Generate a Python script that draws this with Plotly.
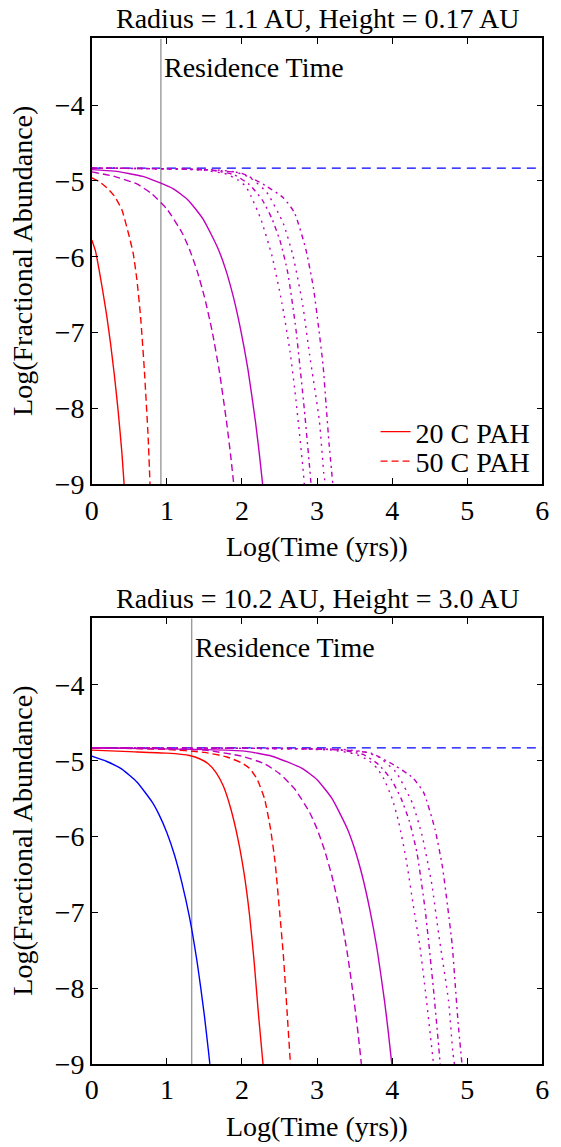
import plotly.graph_objects as go

# ---- Panel A: Radius = 1.1 AU, Height = 0.17 AU ----
a_title = "Radius = 1.1 AU, Height = 0.17 AU"
a_residence = 0.92
a_initial = -4.83

a_red_solid_x = [0.0, 0.05, 0.10, 0.15, 0.20, 0.25, 0.30, 0.35, 0.40, 0.43]
a_red_solid_y = [-5.78, -5.93, -6.19, -6.48, -6.79, -7.15, -7.56, -8.03, -8.58, -9.00]

a_red_dash_x = [0.0, 0.10, 0.20, 0.30, 0.40, 0.50, 0.55, 0.60, 0.65, 0.70, 0.75, 0.775]
a_red_dash_y = [-4.96, -5.01, -5.09, -5.20, -5.38, -5.74, -5.95, -6.30, -6.80, -7.50, -8.38, -9.00]

a_mag_solid_x = [0.0, 0.30, 0.68, 1.08, 1.28, 1.48, 1.68, 1.78, 1.88, 1.98, 2.08, 2.18, 2.23, 2.275]
a_mag_solid_y = [-4.85, -4.87, -4.94, -5.10, -5.25, -5.50, -5.89, -6.16, -6.51, -6.95, -7.49, -8.18, -8.59, -9.00]

a_mag_dash_x = [0.0, 0.30, 0.60, 0.80, 1.00, 1.20, 1.30, 1.40, 1.50, 1.60, 1.70, 1.80, 1.85, 1.89]
a_mag_dash_y = [-4.88, -4.94, -5.04, -5.17, -5.37, -5.68, -5.90, -6.18, -6.53, -6.97, -7.52, -8.22, -8.63, -9.00]

a_dot1_x = [0.0, 1.0, 1.5, 1.8, 1.95, 2.05, 2.12, 2.25, 2.40, 2.53, 2.64, 2.72, 2.81, 2.83]
a_dot1_y = [-4.83, -4.84, -4.86, -4.91, -4.99, -5.07, -5.20, -5.50, -5.99, -6.60, -7.25, -7.90, -8.77, -9.00]

a_dd1_x = [0.0, 1.0, 1.6, 1.9, 2.10, 2.27, 2.40, 2.51, 2.61, 2.72, 2.83, 2.90, 2.92]
a_dd1_y = [-4.83, -4.84, -4.86, -4.92, -5.05, -5.25, -5.50, -5.80, -6.21, -6.97, -8.01, -8.77, -9.00]

a_dot2_x = [0.0, 1.0, 1.6, 1.9, 2.10, 2.33, 2.55, 2.68, 2.81, 2.90, 3.03, 3.09, 3.11]
a_dot2_y = [-4.83, -4.84, -4.85, -4.88, -4.95, -5.15, -5.56, -5.99, -6.64, -7.29, -8.16, -8.86, -9.00]

a_dd2_x = [0.0, 1.0, 1.5, 2.0, 2.31, 2.55, 2.70, 2.85, 2.95, 3.02, 3.08, 3.12, 3.16, 3.21]
a_dd2_y = [-4.83, -4.84, -4.85, -4.90, -5.06, -5.22, -5.42, -5.90, -6.40, -6.93, -7.43, -7.95, -8.47, -9.00]

# ---- Panel B: Radius = 10.2 AU, Height = 3.0 AU ----
b_title = "Radius = 10.2 AU, Height = 3.0 AU"
b_residence = 1.33
b_initial = -4.83

b_blue_solid_x = [0.0, 0.2, 0.4, 0.6, 0.8, 0.9, 1.0, 1.1, 1.2, 1.3, 1.4, 1.45, 1.5, 1.55, 1.572]
b_blue_solid_y = [-4.94, -5.01, -5.11, -5.28, -5.54, -5.72, -5.95, -6.24, -6.61, -7.06, -7.64, -7.99, -8.37, -8.80, -9.00]

b_red_solid_x = [0.0, 0.5, 1.0, 1.30, 1.45, 1.55, 1.65, 1.75, 1.85, 1.95, 2.03, 2.10, 2.16, 2.22, 2.28]
b_red_solid_y = [-4.86, -4.88, -4.90, -4.93, -4.98, -5.04, -5.15, -5.33, -5.63, -6.05, -6.50, -7.03, -7.63, -8.35, -9.00]

b_red_dash_x = [0.0, 1.0, 1.5, 1.8, 2.0, 2.1, 2.2, 2.3, 2.38, 2.44, 2.50, 2.55, 2.60, 2.645]
b_red_dash_y = [-4.83, -4.85, -4.89, -4.95, -5.03, -5.10, -5.24, -5.50, -5.90, -6.33, -6.98, -7.55, -8.30, -9.00]

b_mag_dash_x = [0.0, 1.5, 2.0, 2.3, 2.5, 2.7, 2.9, 3.0, 3.1, 3.2, 3.3, 3.4, 3.5, 3.55, 3.59]
b_mag_dash_y = [-4.83, -4.86, -4.94, -5.04, -5.17, -5.37, -5.68, -5.90, -6.18, -6.53, -6.97, -7.52, -8.22, -8.63, -9.00]

b_mag_solid_x = [0.0, 2.0, 2.4, 2.8, 3.0, 3.2, 3.4, 3.5, 3.6, 3.7, 3.8, 3.9, 3.95, 3.995]
b_mag_solid_y = [-4.83, -4.87, -4.94, -5.10, -5.25, -5.50, -5.89, -6.16, -6.51, -6.95, -7.49, -8.18, -8.59, -9.00]

b_dot1_x = [0.0, 2.5, 3.2, 3.5, 3.68, 3.8, 3.89, 4.0, 4.09, 4.19, 4.28, 4.37, 4.45, 4.54, 4.55]
b_dot1_y = [-4.83, -4.84, -4.86, -4.91, -4.99, -5.10, -5.24, -5.50, -5.82, -6.32, -6.90, -7.45, -8.10, -8.90, -9.00]

b_dd1_x = [0.0, 2.72, 3.32, 3.62, 3.82, 3.99, 4.12, 4.23, 4.33, 4.44, 4.55, 4.62, 4.64]
b_dd1_y = [-4.83, -4.84, -4.86, -4.92, -5.05, -5.25, -5.50, -5.80, -6.21, -6.97, -8.01, -8.77, -9.00]

b_dot2_x = [0.0, 2.72, 3.32, 3.62, 3.82, 4.05, 4.27, 4.40, 4.53, 4.62, 4.75, 4.81, 4.83]
b_dot2_y = [-4.83, -4.84, -4.85, -4.88, -4.95, -5.15, -5.56, -5.99, -6.64, -7.29, -8.16, -8.86, -9.00]

b_dd2_x = [0.0, 2.72, 3.22, 3.72, 4.03, 4.27, 4.42, 4.57, 4.67, 4.74, 4.80, 4.84, 4.88, 4.93]
b_dd2_y = [-4.83, -4.84, -4.85, -4.90, -5.06, -5.22, -5.42, -5.90, -6.40, -6.93, -7.43, -7.95, -8.47, -9.00]

x_ticks = [0, 1, 2, 3, 4, 5, 6]
y_ticks = [-9, -8, -7, -6, -5, -4]
x_range = [0, 6]
y_range = [-9, -3.12]

RED = "#ff0000"
MAG = "#bf00bf"
BLUE = "#0000ff"
GREY = "#9a9a9a"
FONT = "Liberation Serif"
FS = 28
LW = 1.4

DASH = "7px,4px"
DOT = "2px,5px"
DASHDOT = "5px,4px,2px,4px"
BLUE_DASH = "9px,6px"

W, H = 561, 1147
# plot boxes in pixels: (left, right, top, bottom)
box_a = (87, 549, 39, 491)
box_b = (87, 549, 627, 1079)


def xdom(box):
    return [box[0] / W, box[1] / W]


def ydom(box):
    return [(H - box[3]) / H, (H - box[2]) / H]


fig = go.Figure()


def add_line(x, y, color, dash, ax, name=None, legend=None):
    fig.add_trace(go.Scatter(
        x=x, y=y, mode="lines", name=name, showlegend=legend is not None,
        legend=legend if legend else "legend",
        line=dict(color=color, width=LW, dash=dash, shape="spline", smoothing=0.5),
        xaxis="x" if ax == 1 else "x2", yaxis="y" if ax == 1 else "y2",
    ))


# panel A curves
add_line(x_range, [a_initial, a_initial], BLUE, BLUE_DASH, 1)
add_line([a_residence, a_residence], y_range, GREY, "solid", 1)
add_line(a_red_solid_x, a_red_solid_y, RED, "solid", 1, "20 C PAH", "legend")
add_line(a_red_dash_x, a_red_dash_y, RED, DASH, 1, "50 C PAH", "legend2")
add_line(a_mag_solid_x, a_mag_solid_y, MAG, "solid", 1)
add_line(a_mag_dash_x, a_mag_dash_y, MAG, DASH, 1)
add_line(a_dot1_x, a_dot1_y, MAG, DOT, 1)
add_line(a_dd1_x, a_dd1_y, MAG, DASHDOT, 1)
add_line(a_dot2_x, a_dot2_y, MAG, DOT, 1)
add_line(a_dd2_x, a_dd2_y, MAG, DASHDOT, 1)

# panel B curves
add_line(x_range, [b_initial, b_initial], BLUE, BLUE_DASH, 2)
add_line([b_residence, b_residence], y_range, GREY, "solid", 2)
add_line(b_blue_solid_x, b_blue_solid_y, BLUE, "solid", 2)
add_line(b_red_solid_x, b_red_solid_y, RED, "solid", 2)
add_line(b_red_dash_x, b_red_dash_y, RED, DASH, 2)
add_line(b_mag_dash_x, b_mag_dash_y, MAG, DASH, 2)
add_line(b_mag_solid_x, b_mag_solid_y, MAG, "solid", 2)
add_line(b_dot1_x, b_dot1_y, MAG, DOT, 2)
add_line(b_dd1_x, b_dd1_y, MAG, DASHDOT, 2)
add_line(b_dot2_x, b_dot2_y, MAG, DOT, 2)
add_line(b_dd2_x, b_dd2_y, MAG, DASHDOT, 2)

axis_common = dict(
    showgrid=False, zeroline=False, showline=True, linecolor="black", linewidth=1.5,
    mirror="ticks", ticks="inside", ticklen=6, tickwidth=1, tickcolor="black",
    tickfont=dict(family=FONT, size=FS, color="black"),
)

legend_common = dict(
    x=378 / W, xanchor="left", yanchor="middle",
    bgcolor="rgba(0,0,0,0)", font=dict(family=FONT, size=FS, color="black"),
    itemwidth=30,
)

fig.update_layout(
    width=W, height=H, margin=dict(l=0, r=0, t=0, b=0),
    plot_bgcolor="white", paper_bgcolor="white",
    font=dict(family=FONT, color="black"),
    xaxis=dict(domain=xdom(box_a), range=x_range, tickvals=x_ticks, anchor="y", **axis_common),
    yaxis=dict(domain=ydom(box_a), range=y_range, tickvals=y_ticks, anchor="x", **axis_common),
    xaxis2=dict(domain=xdom(box_b), range=x_range, tickvals=x_ticks, anchor="y2", **axis_common),
    yaxis2=dict(domain=ydom(box_b), range=y_range, tickvals=y_ticks, anchor="x2", **axis_common),
    legend=dict(y=(H - 438) / H, **legend_common),
    legend2=dict(y=(H - 468) / H, **legend_common),
)


def text(x, y, s, angle=0):
    fig.add_annotation(
        x=x / W, y=(H - y) / H, xref="paper", yref="paper", text=s, showarrow=False,
        font=dict(family=FONT, size=FS, color="black"), textangle=angle,
        xanchor="center", yanchor="middle",
    )


for box, ttl, res, xr, yr in ((box_a, a_title, a_residence, "x", "y"),
                              (box_b, b_title, b_residence, "x2", "y2")):
    cx = (box[0] + box[1]) / 2
    text(cx, box[2] - 20, ttl)
    text(cx, box[3] + 63, "Log(Time (yrs))")
    text(16, (box[2] + box[3]) / 2, "Log(Fractional Abundance)", angle=-90)
    fig.add_annotation(
        x=res, y=-3.5, xref=xr, yref=yr,
        text="Residence Time", showarrow=False, xanchor="left", yanchor="middle", xshift=1,
        font=dict(family=FONT, size=FS, color="black"),
    )

fig.write_html("out.html")
